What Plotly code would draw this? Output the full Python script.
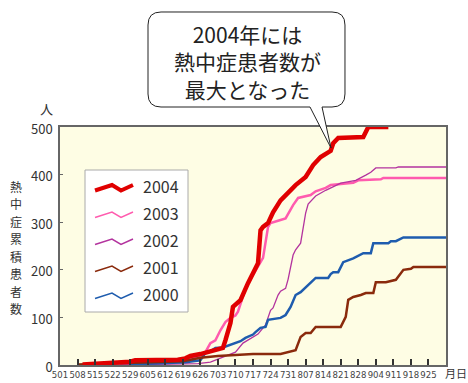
import plotly.graph_objects as go

# ---------------- data ----------------
YEAR = "2004"
tick_labels = ["501", "508", "515", "522", "529", "605", "612", "619", "626", "703", "710",
               "717", "724", "731", "807", "814", "821", "828", "904", "911", "918", "925"]
y_ticks = [0, 100, 200, 300, 400, 500]

series_names = ["2004", "2003", "2002", "2001", "2000"]
series_colors = ["#E00000", "#FF5BAE", "#B3339E", "#8A2A0C", "#1E5CAE"]
series_widths = [4.5, 2.5, 1.3, 2.5, 2.5]

d2004 = ["05-10", "05-25", "05-29", "05-31", "06-17", "06-20", "06-22", "06-26", "06-29", "07-03",
         "07-05", "07-06", "07-08", "07-09", "07-11", "07-12", "07-15", "07-19", "07-20", "07-21",
         "07-23", "07-25", "07-28", "07-31", "08-03", "08-07", "08-10", "08-13", "08-16", "08-17",
         "08-18", "08-20", "08-30", "09-01", "09-09"]
v2004 = [1, 5, 7, 10, 11, 14, 19, 23, 27, 31,
         36, 52, 88, 122, 132, 136, 172, 214, 283, 290,
         298, 321, 346, 363, 378, 395, 420, 437, 445, 450,
         466, 477, 479, 500, 500]

d2003 = ["05-22", "06-05", "06-15", "06-22", "06-26", "06-28", "06-30", "07-02", "07-04", "07-06",
         "07-08", "07-10", "07-11", "07-13", "07-14", "07-16", "07-19", "07-21", "07-23", "07-24",
         "07-27", "07-30", "08-02", "08-04", "08-09", "08-11", "08-15", "08-17", "08-26", "08-28",
         "09-06", "09-07", "10-02"]
v2003 = [1, 3, 6, 12, 20, 27, 46, 52, 73, 90,
         99, 104, 112, 143, 160, 180, 206, 225, 290, 298,
         303, 308, 336, 351, 357, 365, 372, 378, 383, 388,
         390, 393, 393]

d2002 = ["05-25", "06-10", "06-25", "06-30", "07-04", "07-10", "07-13", "07-16", "07-19", "07-22",
         "07-24", "07-25", "07-27", "07-28", "07-30", "07-31", "08-02", "08-03", "08-05", "08-07",
         "08-08", "08-11", "08-15", "08-21", "08-27", "08-31", "09-02", "09-04", "09-12", "09-13",
         "10-02"]
v2002 = [0, 1, 3, 6, 15, 27, 46, 55, 65, 84,
         115, 120, 147, 155, 161, 180, 231, 242, 256, 319,
         338, 355, 367, 382, 388, 399, 405, 414, 414, 416,
         416]

d2001 = ["05-08", "05-29", "06-12", "06-19", "06-26", "07-03", "07-10", "07-17", "07-28", "08-03",
         "08-05", "08-07", "08-09", "08-11", "08-21", "08-23", "08-24", "08-26", "08-29", "08-31",
         "09-03", "09-04", "09-08", "09-12", "09-15", "09-18", "09-19", "10-02"]
v2001 = [1, 4, 6, 8, 15, 19, 21, 23, 23, 31,
         59, 67, 67, 80, 80, 101, 137, 143, 147, 151,
         151, 174, 174, 179, 200, 202, 206, 206]

d2000 = ["05-29", "06-10", "06-20", "06-26", "06-28", "06-30", "07-02", "07-05", "07-08", "07-10",
         "07-12", "07-14", "07-17", "07-18", "07-20", "07-22", "07-23", "07-28", "07-30", "08-01",
         "08-03", "08-05", "08-08", "08-11", "08-16", "08-17", "08-18", "08-20", "08-22", "08-24",
         "08-26", "08-30", "09-02", "09-03", "09-09", "09-10", "09-12", "09-15", "10-02"]
v2000 = [1, 3, 6, 10, 25, 29, 36, 37, 42, 46,
         50, 57, 64, 69, 78, 80, 95, 99, 105, 122,
         147, 153, 168, 183, 183, 191, 195, 195, 216, 220,
         224, 235, 235, 256, 256, 260, 260, 268, 268]

series_dates = [d2004, d2003, d2002, d2001, d2000]
series_values = [v2004, v2003, v2002, v2001, v2000]

y_title = "熱中症累積患者数"
callout_text = "2004年には<br>熱中症患者数が<br>最大となった"

# ---------------- layout geometry (pixels) ----------------
W_PX, H_PX = 468, 383
L, R, T, B = 60, 446, 127, 365
JP = "Noto Sans CJK JP"


def px(x):
    return (x - L) / (R - L)


def py(y):
    return (B - y) / (B - T)


def full_date(md):
    return f"{YEAR}-{md}"


fig = go.Figure()

draw_order = [1, 2, 4, 3, 0]
for i in draw_order:
    fig.add_trace(go.Scatter(
        x=[full_date(d) for d in series_dates[i]],
        y=series_values[i],
        mode="lines",
        line=dict(color=series_colors[i], width=series_widths[i]),
        name=series_names[i],
        showlegend=False,
        hoverinfo="skip",
    ))

tick_dates = [full_date(f"{int(t[:-2]):02d}-{t[-2:]}") for t in tick_labels]

fig.update_xaxes(
    type="date", range=[full_date("05-01"), full_date("10-02")],
    tickmode="array", tickvals=tick_dates, ticktext=tick_labels, tickangle=0,
    ticks="inside", ticklen=6, tickwidth=1.5, tickcolor="#333",
    showline=True, linecolor="#666", linewidth=1.5, mirror=True,
    showgrid=False, zeroline=False, automargin=False,
    tickfont=dict(family="Liberation Sans Narrow, DejaVu Sans Condensed, Liberation Sans",
                  size=9.5, color="#444"),
)
fig.update_yaxes(
    range=[0, 500], tickmode="array", tickvals=y_ticks,
    ticks="inside", ticklen=3, tickwidth=1, tickcolor="#666",
    showline=True, linecolor="#666", linewidth=1.5, mirror=True,
    showgrid=False, zeroline=False, automargin=False,
    ticklabelstandoff=3, ticklabelshift=2,
    tickfont=dict(family=JP, size=13, color="#333"),
)

shapes = []
annotations = []

# ---- manual legend ----
shapes.append(dict(type="rect", xref="paper", yref="paper",
                   x0=px(85), x1=px(188), y0=py(312), y1=py(170),
                   fillcolor="white", line=dict(color="#AAAAAA", width=1), layer="above"))
zig = [(95, 4.5), (112, -1.0), (121, 4.5), (133, -1.0)]
for i, name in enumerate(series_names):
    yc = 186 + 27 * i
    pts = [(px(x), py(yc + dy)) for x, dy in zig]
    path = "M " + " L ".join(f"{a:.4f},{b:.4f}" for a, b in pts)
    shapes.append(dict(type="path", xref="paper", yref="paper", path=path,
                       line=dict(color=series_colors[i], width=4 if i == 0 else 1.5),
                       layer="above"))
    annotations.append(dict(xref="paper", yref="paper", x=px(141), y=py(yc),
                            xanchor="left", yanchor="middle", showarrow=False,
                            text=name, font=dict(family=JP, size=16, color="#333")))

# ---- callout bubble ----
bl, br, bt, bb, r = 148, 345, 12, 107, 13
t1, t2, ax, ay = 310, 322, 331, 148


def P(x, y):
    return f"{px(x):.4f},{py(y):.4f}"


bubble = (f"M {P(t1, bb)} L {P(ax, ay)} L {P(t2, bb)} L {P(br - r, bb)} "
          f"Q {P(br, bb)} {P(br, bb - r)} L {P(br, bt + r)} Q {P(br, bt)} {P(br - r, bt)} "
          f"L {P(bl + r, bt)} Q {P(bl, bt)} {P(bl, bt + r)} L {P(bl, bb - r)} "
          f"Q {P(bl, bb)} {P(bl + r, bb)} Z")
shapes.append(dict(type="path", xref="paper", yref="paper", path=bubble,
                   fillcolor="white", line=dict(color="#222", width=1), layer="above"))
annotations.append(dict(xref="paper", yref="paper", x=px(247), y=py(61.5),
                        xanchor="center", yanchor="middle", showarrow=False, align="center",
                        text=callout_text, font=dict(family=JP, size=21, color="#222")))

# ---- axis titles (vertical, one character per line) ----
for k, ch in enumerate(y_title):
    annotations.append(dict(xref="paper", yref="paper", x=px(16), y=py(186 + 17.5 * k),
                            xanchor="center", yanchor="middle", showarrow=False,
                            text=ch, font=dict(family=JP, size=12, color="#333")))
annotations.append(dict(xref="paper", yref="paper", x=px(46), y=py(108),
                        xanchor="center", yanchor="middle", showarrow=False,
                        text="人", font=dict(family=JP, size=13, color="#333")))
annotations.append(dict(xref="paper", yref="paper", x=px(456), y=py(373),
                        xanchor="center", yanchor="middle", showarrow=False,
                        text="月日", font=dict(family=JP, size=11, color="#333")))

fig.update_layout(
    width=W_PX, height=H_PX,
    margin=dict(l=L, r=W_PX - R, t=T, b=H_PX - B, pad=0),
    paper_bgcolor="white", plot_bgcolor="#FEFDE4",
    showlegend=False, shapes=shapes, annotations=annotations,
)

fig.write_html("out.html")
